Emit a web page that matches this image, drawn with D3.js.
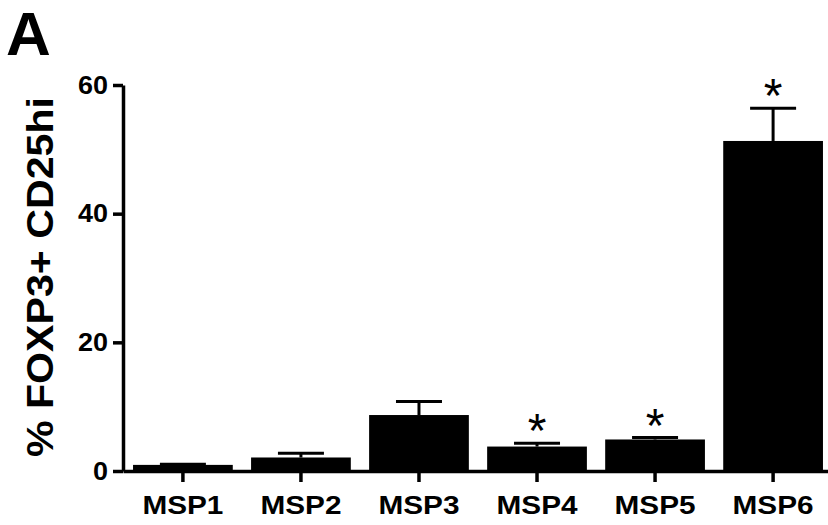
<!DOCTYPE html>
<html>
<head>
<meta charset="utf-8">
<script src="https://cdn.jsdelivr.net/npm/d3@7"></script>
<style>
  body { margin: 0; background: #fff; }
  text { font-family: "Liberation Sans", Arial, sans-serif; }
</style>
</head>
<body>
<svg id="chart" width="828" height="525"></svg>
<script>
const categories = ["MSP1", "MSP2", "MSP3", "MSP4", "MSP5", "MSP6"];
const means = [0.95, 2.1, 8.7, 3.8, 4.9, 51.3];
const errors = [0.1, 0.65, 2.1, 0.5, 0.3, 5.1];
const significant = [false, false, false, true, true, true];
const yTicks = [0, 20, 40, 60];

const data = categories.map((c, i) => ({name: c, mean: means[i], err: errors[i], sig: significant[i]}));

const svg = d3.select("#chart");

const x = d3.scaleBand()
  .domain(categories)
  .range([123, 833])
  .paddingInner(0.155)
  .paddingOuter(0.085);

const y = d3.scaleLinear()
  .domain([0, 60])
  .range([471, 85]);

// bars
svg.append("g")
  .selectAll("rect")
  .data(data)
  .join("rect")
  .attr("x", d => x(d.name))
  .attr("y", d => y(d.mean))
  .attr("width", x.bandwidth())
  .attr("height", d => y(0) - y(d.mean))
  .attr("fill", "#000");

// error bars
const eb = svg.append("g").attr("stroke", "#000").attr("stroke-width", 3);
eb.selectAll("line.stem")
  .data(data)
  .join("line")
  .attr("class", "stem")
  .attr("x1", d => x(d.name) + x.bandwidth() / 2)
  .attr("x2", d => x(d.name) + x.bandwidth() / 2)
  .attr("y1", d => y(d.mean))
  .attr("y2", d => y(d.mean + d.err));
eb.selectAll("line.cap")
  .data(data)
  .join("line")
  .attr("class", "cap")
  .attr("x1", d => x(d.name) + x.bandwidth() / 2 - 23)
  .attr("x2", d => x(d.name) + x.bandwidth() / 2 + 23)
  .attr("y1", d => y(d.mean + d.err))
  .attr("y2", d => y(d.mean + d.err));

// significance stars
svg.append("g")
  .selectAll("text")
  .data(data.filter(d => d.sig))
  .join("text")
  .attr("x", d => x(d.name) + x.bandwidth() / 2)
  .attr("y", d => y(d.mean + d.err) + 4)
  .attr("text-anchor", "middle")
  .attr("font-size", 48)
  .text("*");

// y axis
const yAxis = svg.append("g")
  .attr("transform", "translate(123,0)")
  .call(d3.axisLeft(y).tickValues(yTicks).tickSize(10).tickSizeOuter(0).tickPadding(5));
yAxis.selectAll("path, line").attr("stroke", "#000").attr("stroke-width", 3.5);
yAxis.selectAll("text")
  .attr("font-size", 26)
  .attr("font-weight", "bold")
  .attr("fill", "#000")
  .attr("font-family", "Liberation Sans, Arial, sans-serif")
  .attr("textLength", d => 15 * String(d).length)
  .attr("lengthAdjust", "spacingAndGlyphs");

// x axis
const xAxis = svg.append("g")
  .attr("transform", "translate(0,471)")
  .call(d3.axisBottom(x).tickSize(11).tickSizeOuter(0).tickPadding(14));
xAxis.selectAll("path, line").attr("stroke", "#000").attr("stroke-width", 3.5);
xAxis.selectAll("text")
  .attr("font-size", 25)
  .attr("font-weight", "bold")
  .attr("fill", "#000")
  .attr("font-family", "Liberation Sans, Arial, sans-serif")
  .attr("textLength", 81)
  .attr("lengthAdjust", "spacingAndGlyphs");

// y label
svg.append("text")
  .attr("transform", "translate(53,277) rotate(-90)")
  .attr("text-anchor", "middle")
  .attr("font-size", 37)
  .attr("font-weight", "bold")
  .attr("textLength", 360)
  .attr("lengthAdjust", "spacingAndGlyphs")
  .text("% FOXP3+ CD25hi");

// panel letter
svg.append("text")
  .attr("x", 6)
  .attr("y", 55)
  .attr("font-size", 62)
  .attr("font-weight", "bold")
  .text("A");
</script>
</body>
</html>
